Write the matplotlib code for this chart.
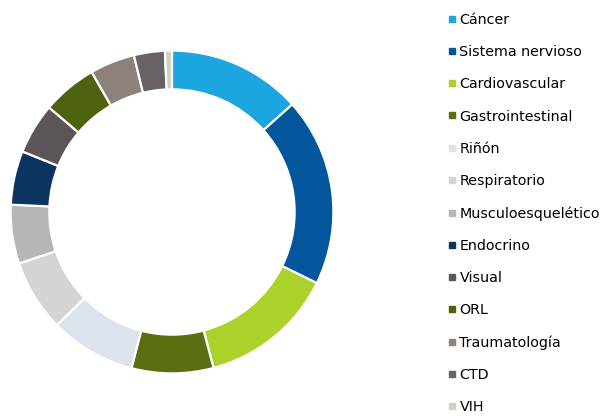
import matplotlib.pyplot as plt
from matplotlib.lines import Line2D

# Share of each therapeutic area (percent, read from the ring)
labels = ['Cáncer', 'Sistema nervioso', 'Cardiovascular', 'Gastrointestinal',
          'Riñón', 'Respiratorio', 'Musculoesquelético', 'Endocrino',
          'Visual', 'ORL', 'Traumatología', 'CTD', 'VIH']
shares = [13.4, 18.9, 13.6, 8.2, 8.6, 7.2, 5.9, 5.4, 5.1, 5.5, 4.5, 3.1, 0.7]
colors = ['#1da5e0', '#03569b', '#acd12a', '#5a6f12', '#dce3ec', '#d6d3d1',
          '#b9b5b6', '#0b3560', '#5d5658', '#4f6212', '#8d8279', '#686264',
          '#cfd2c0']

fig = plt.figure(figsize=(6.03, 4.16), dpi=100)

# donut: centre ~ (172, 212) px, outer radius ~163 px
cx, cy, r = 172, 212, 163
W, H = 603, 416
ax = fig.add_axes([(cx - r) / W, (H - cy - r) / H, 2 * r / W, 2 * r / H])
ax.pie(shares, colors=colors, startangle=90, counterclock=False,
       wedgeprops=dict(width=0.24, edgecolor='white', linewidth=1.6))
ax.set_xlim(-1.01, 1.01)
ax.set_ylim(-1.01, 1.01)

# legend on the right
handles = [Line2D([], [], marker='s', linestyle='', color=c, markersize=4)
           for c in colors]
fig.legend(handles, labels, loc='upper left', bbox_to_anchor=(448 / W, 1 - 13 / H),
           frameon=False, labelspacing=1.27, handlelength=0.6,
           handletextpad=0.2, borderpad=0, borderaxespad=0,
           prop={'family': 'DejaVu Sans', 'size': 10.3})

fig.savefig('out.png', dpi=100)
